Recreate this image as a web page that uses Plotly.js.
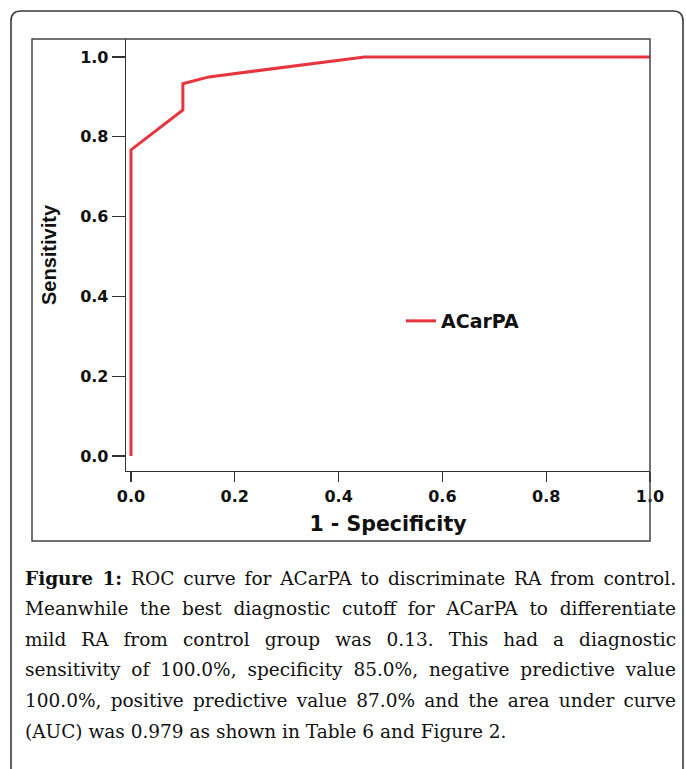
<!DOCTYPE html>
<html>
<head>
<meta charset="utf-8">
<script src="https://cdn.plot.ly/plotly-3.0.1.min.js"></script>
<style>
html,body{margin:0;padding:0;background:#fff;}
#chart{width:686px;height:769px;}
</style>
</head>
<body>
<div id="chart"></div>
<script>
// ---- data ----
var seriesName = 'ACarPA';
var fpr = [0, 0, 0.1, 0.1, 0.15, 0.45, 1.0];          // 1 - Specificity
var tpr = [0, 0.767, 0.867, 0.933, 0.95, 1.0, 1.0];    // Sensitivity
var tickVals = [0, 0.2, 0.4, 0.6, 0.8, 1.0];
var tickText = ['0.0', '0.2', '0.4', '0.6', '0.8', '1.0'];
var xTitle = '1 - Specificity';
var yTitle = 'Sensitivity';
var captionBold = 'Figure 1:';
var captionLines = [
  ' ROC curve for ACarPA to discriminate RA from control.',
  'Meanwhile the best diagnostic cutoff for ACarPA to differentiate',
  'mild RA from control group was 0.13. This had a diagnostic',
  'sensitivity of 100.0%, specificity 85.0%, negative predictive value',
  '100.0%, positive predictive value 87.0% and the area under curve',
  '(AUC) was 0.979 as shown in Table 6 and Figure 2.'
];

// ---- layout geometry (pixels) ----
var W = 686, H = 769;
var L = 126, R = 650, T = 39, B = 471;
function px(x){ return (x - L) / (R - L); }
function py(y){ return (B - y) / (B - T); }

var capFont = '"DejaVu Serif", serif';
var capSize = 18.5;
var capLeft = 23, capRight = 674;
var capBase = 584, capStep = 30.6;

var cv = document.createElement('canvas').getContext('2d');
function measure(txt, bold){
  cv.font = (bold ? 'bold ' : '') + capSize + 'px "DejaVu Serif"';
  return cv.measureText(txt).width;
}

var annotations = [];
captionLines.forEach(function(line, i){
  var isFirst = (i === 0);
  var full = isFirst ? captionBold + line : line;
  var natural = isFirst ? measure(captionBold, true) + measure(line, false) : measure(line, false);
  var spaces = (full.match(/ /g) || []).length;
  var justify = i < captionLines.length - 1;
  var ws = justify ? (capRight - capLeft - natural) / spaces : 0;
  var inner = isFirst ? '<b>' + captionBold + '</b>' + line : line;
  annotations.push({
    xref: 'paper', yref: 'paper',
    x: px(capLeft), y: py(capBase + i * capStep - 6),
    xanchor: 'left', yanchor: 'middle',
    showarrow: false, align: 'left',
    text: '<span style="word-spacing:' + ws.toFixed(2) + 'px">' + inner + '</span>',
    font: {family: capFont, size: capSize, color: '#111'}
  });
});

var shapes = [
  // outer rounded frame
  {type: 'path', xref: 'paper', yref: 'paper',
   path: 'M ' + px(11) + ',' + py(790) + ' L ' + px(11) + ',' + py(21) +
         ' Q ' + px(11) + ',' + py(11) + ' ' + px(21) + ',' + py(11) +
         ' L ' + px(673) + ',' + py(11) +
         ' Q ' + px(683) + ',' + py(11) + ' ' + px(683) + ',' + py(21) +
         ' L ' + px(683) + ',' + py(790),
   line: {color: '#3a3a3a', width: 1.6}},
  // inner chart frame
  {type: 'rect', xref: 'paper', yref: 'paper',
   x0: px(32), x1: px(650), y0: py(541), y1: py(39),
   line: {color: '#444', width: 1.5}}
];

var trace = {
  type: 'scatter', mode: 'lines', name: seriesName,
  x: fpr, y: tpr,
  line: {color: '#e6353f', width: 3},
  cliponaxis: false
};

var layout = {
  width: W, height: H,
  margin: {l: L, r: W - R, t: T, b: H - B, pad: 0},
  paper_bgcolor: '#fff', plot_bgcolor: '#fff',
  showlegend: true,
  legend: {
    x: px(401), y: py(321), xanchor: 'left', yanchor: 'middle',
    bgcolor: 'rgba(0,0,0,0)', borderwidth: 0,
    font: {family: '"DejaVu Sans", sans-serif', size: 19, color: '#111', weight: 'bold'}
  },
  xaxis: {
    range: [-0.0096, 1.0], fixedrange: true,
    showgrid: false, zeroline: false,
    showline: true, linecolor: '#333', linewidth: 1.3,
    ticks: 'outside', ticklen: 10, tickwidth: 1.3, tickcolor: '#333',
    tickvals: tickVals, ticktext: tickText,
    tickfont: {family: '"DejaVu Sans", sans-serif', size: 16, color: '#111', weight: 'bold'},
    title: {text: xTitle, standoff: 12,
            font: {family: '"DejaVu Sans", sans-serif', size: 20.5, color: '#111', weight: 'bold'}}
  },
  yaxis: {
    range: [-0.0376, 1.045], fixedrange: true,
    showgrid: false, zeroline: false,
    showline: true, linecolor: '#333', linewidth: 1.3,
    ticks: 'outside', ticklen: 13, tickwidth: 1.3, tickcolor: '#333',
    tickvals: tickVals, ticktext: tickText,
    tickfont: {family: '"DejaVu Sans", sans-serif', size: 16, color: '#111', weight: 'bold'},
    title: {text: yTitle, standoff: 18,
            font: {family: '"Liberation Sans", Arial, sans-serif', size: 20, color: '#111', weight: 'bold'}}
  },
  shapes: shapes,
  annotations: annotations
};

Plotly.newPlot('chart', [trace], layout, {staticPlot: true, displayModeBar: false});
</script>
</body>
</html>
